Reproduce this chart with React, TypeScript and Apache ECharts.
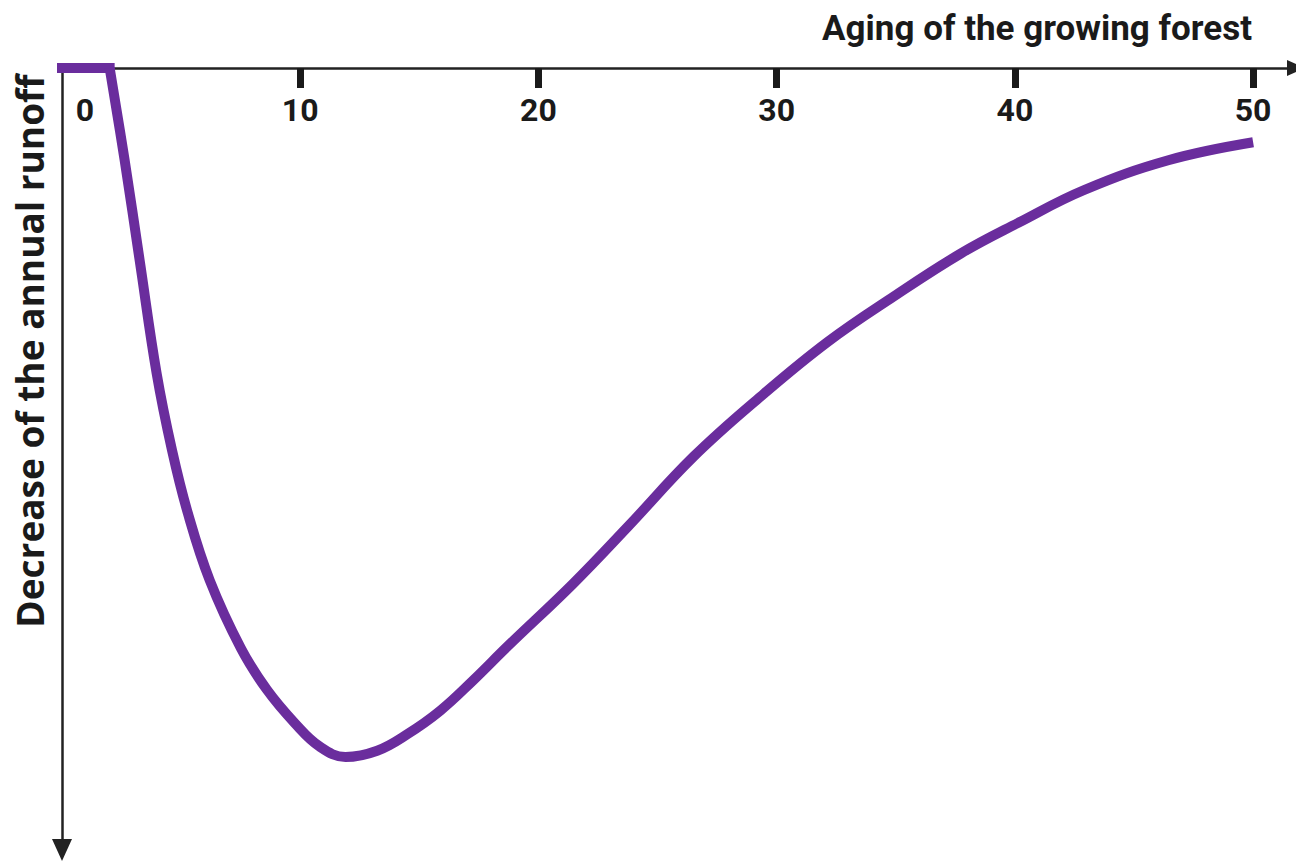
import React, { useEffect, useRef } from "react";
import * as echarts from "echarts";

// Forest age (years) and decrease of the annual runoff (arbitrary units, downward)
const flatAge = [0, 2.0];
const flatDecrease = [0, 0];
const age = [2.0, 2.63, 3.26, 3.97, 4.62, 5.28, 6.2, 7.51, 8.6, 9.78, 10.83, 11.9, 13.23, 14.49, 15.87, 17.26, 18.69, 21.47, 23.74, 26.51, 29.33, 32.15, 34.92, 37.74, 40.14, 42.91, 46.44, 50.0];
const runoffDecrease = [0, 11.8, 24.6, 39.0, 48.9, 56.9, 65.5, 74.2, 79.5, 83.8, 86.8, 88.1, 87.3, 85.2, 82.2, 78.3, 74.0, 65.9, 58.7, 49.7, 42.0, 35.0, 29.2, 23.7, 19.8, 15.6, 11.8, 9.5];
const tickValues = [10, 20, 30, 40, 50];
const labelValues = [0, 10, 20, 30, 40, 50];
const xTitle = "Aging of the growing forest";
const yTitle = "Decrease of the annual runoff";

const DIN = "Roboto, 'DejaVu Sans Condensed', sans-serif";
const PURPLE = "#6a2d9d";
const INK = "#1a1a1a";

export default function App() {
  const ref = useRef<HTMLDivElement>(null);
  useEffect(() => {
    if (!ref.current) return;
    const chart = echarts.init(ref.current, undefined, { renderer: "svg" });
    const flatData = flatAge.map((a, i) => [a, flatDecrease[i]]);
    const curveData = age.map((a, i) => [a, runoffDecrease[i]]);
    chart.setOption({
      animation: false,
      backgroundColor: "#ffffff",
      grid: {
        left: 62,
        top: 68,
        right: 0,
        bottom: 13,
        containLabel: false,
        outerBoundsMode: "none",
      },
      xAxis: {
        type: "value",
        position: "top",
        min: 0,
        max: 51.8,
        name: xTitle,
        nameLocation: "end",
        nameGap: -44,
        nameTextStyle: {
          fontFamily: DIN,
          fontWeight: "bold",
          fontSize: 35,
          color: INK,
          align: "right",
          verticalAlign: "bottom",
          padding: [0, 0, 22, 0],
        },
        axisLine: {
          show: true,
          onZero: false,
          symbol: ["none", "triangle"],
          symbolSize: [16, 18],
          lineStyle: { color: "#222222", width: 2.5 },
        },
        axisTick: {
          show: true,
          inside: true,
          length: 20,
          customValues: tickValues,
          lineStyle: { color: INK, width: 7 },
        },
        axisLabel: {
          inside: true,
          margin: 26,
          customValues: labelValues,
          fontFamily: DIN,
          fontWeight: "bold",
          fontSize: 32,
          color: INK,
          formatter: (v: number) => (v === 0 ? "{z|0}" : String(v)),
          rich: {
            z: {
              fontFamily: DIN,
              fontWeight: "bold",
              fontSize: 32,
              color: INK,
              padding: [0, 0, 0, 46],
            },
          },
        },
        splitLine: { show: false },
      },
      yAxis: {
        type: "value",
        inverse: true,
        min: 0,
        max: 100,
        position: "left",
        name: yTitle,
        nameLocation: "middle",
        nameGap: 14,
        nameRotate: 90,
        nameTextStyle: {
          fontFamily: "'Open Sans', Lato, sans-serif",
          fontWeight: "bold",
          fontSize: 37,
          color: INK,
          padding: [0, 0, 0, 216],
        },
        axisLine: {
          show: true,
          onZero: false,
          symbol: ["triangle", "none"],
          symbolSize: [20, 22],
          lineStyle: { color: "#222222", width: 2.5 },
        },
        axisTick: { show: false },
        axisLabel: { show: false },
        splitLine: { show: false },
      },
      series: [
        {
          type: "line",
          name: "before planting",
          data: flatData,
          showSymbol: false,
          symbol: "none",
          lineStyle: { color: PURPLE, width: 10, cap: "square" },
          z: 5,
        },
        {
          type: "line",
          name: "runoff decrease",
          data: curveData,
          smooth: 0.4,
          showSymbol: false,
          symbol: "none",
          lineStyle: { color: PURPLE, width: 10, cap: "butt" },
          z: 5,
        },
      ],
    });
    return () => chart.dispose();
  }, []);
  return (
    <div
      ref={ref}
      style={{ position: "absolute", left: 0, top: 0, width: 1296, height: 863 }}
    />
  );
}
